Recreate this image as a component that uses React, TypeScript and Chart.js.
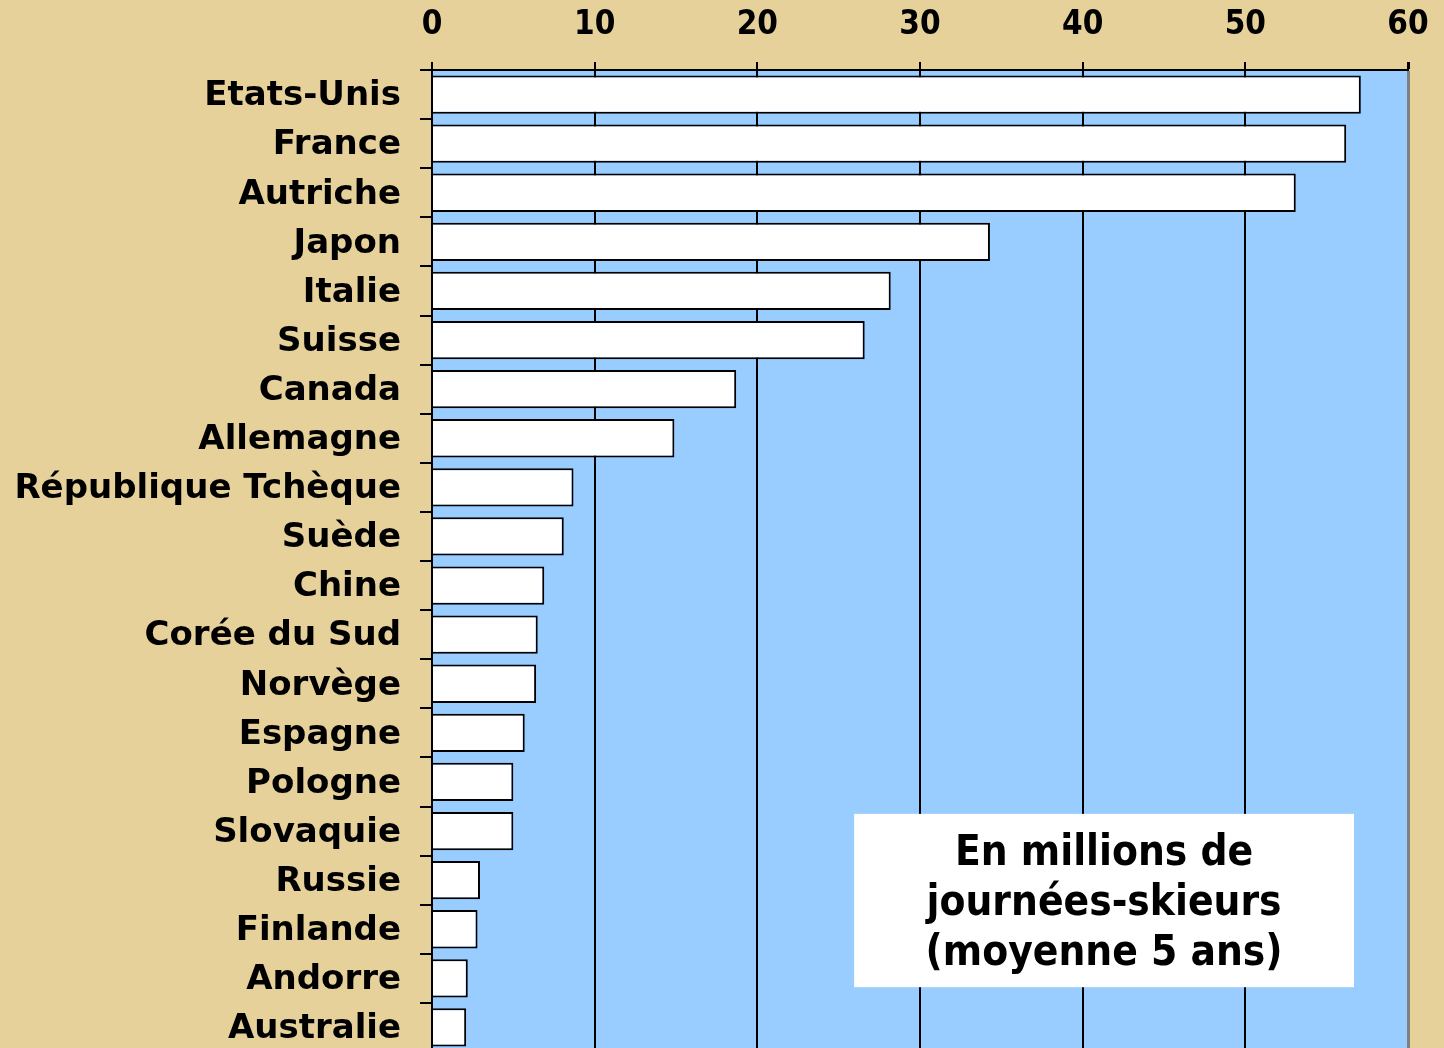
import React, { useEffect, useRef } from "react";
import { Chart, registerables } from "chart.js";

Chart.register(...registerables);

const countries = [
  "Etats-Unis",
  "France",
  "Autriche",
  "Japon",
  "Italie",
  "Suisse",
  "Canada",
  "Allemagne",
  "République Tchèque",
  "Suède",
  "Chine",
  "Corée du Sud",
  "Norvège",
  "Espagne",
  "Pologne",
  "Slovaquie",
  "Russie",
  "Finlande",
  "Andorre",
  "Australie",
];

const values = [57.1, 56.2, 53.1, 34.3, 28.2, 26.6, 18.7, 14.9, 8.7, 8.1, 6.9, 6.5, 6.4, 5.7, 5.0, 5.0, 2.95, 2.8, 2.2, 2.1];

const xMin = 0;
const xMax = 60;
const xStep = 10;

const noteLines = ["En millions de", "journées-skieurs", "(moyenne 5 ans)"];
// note box placement in data units (x value, category index)
const noteX = [25.95, 56.68];
const noteY = [14.65, 18.18];

const TAN = "#E6D19B";
const BLUE = "#99CCFF";
const FONT = '"DejaVu Sans", Verdana, sans-serif';
const FONT_C = '"DejaVu Sans Condensed", "DejaVu Sans", sans-serif';

const bgPlugin = {
  id: "bgPlugin",
  beforeDraw(chart: any) {
    const { ctx, chartArea } = chart;
    ctx.save();
    ctx.fillStyle = TAN;
    ctx.fillRect(0, 0, chart.width, chart.height);
    ctx.fillStyle = BLUE;
    ctx.fillRect(chartArea.left, chartArea.top, chartArea.right - chartArea.left, chartArea.bottom - chartArea.top);
    ctx.restore();
  },
  afterDraw(chart: any) {
    const { ctx } = chart;
    const xs = chart.scales.x;
    const ys = chart.scales.y;
    const l = xs.getPixelForValue(noteX[0]);
    const r = xs.getPixelForValue(noteX[1]);
    const t = ys.getPixelForValue(noteY[0]);
    const b = ys.getPixelForValue(noteY[1]);
    ctx.save();
    ctx.fillStyle = "#FFFFFF";
    ctx.fillRect(l, t, r - l, b - t);
    ctx.fillStyle = "#000000";
    ctx.font = "bold 42px " + FONT_C;
    ctx.textAlign = "center";
    ctx.textBaseline = "alphabetic";
    const cx = (l + r) / 2;
    const lh = 50;
    const base = t + 51;
    noteLines.forEach((line, i) => ctx.fillText(line, cx, base + i * lh));
    ctx.restore();
  },
};

export default function App() {
  const ref = useRef<HTMLCanvasElement | null>(null);
  useEffect(() => {
    if (!ref.current) return;
    const chart = new Chart(ref.current, {
      type: "bar",
      data: {
        labels: countries,
        datasets: [
          {
            data: values,
            backgroundColor: "#FFFFFF",
            borderColor: "#000000",
            borderWidth: 2,
            barPercentage: 0.78,
            categoryPercentage: 1,
          },
        ],
      },
      options: {
        indexAxis: "y",
        animation: false,
        responsive: false,
        devicePixelRatio: 1,
        layout: { padding: { left: 0, right: 36, top: 0, bottom: 0 } },
        plugins: { legend: { display: false }, tooltip: { enabled: false } },
        scales: {
          x: {
            type: "linear",
            position: "top",
            min: xMin,
            max: xMax,
            ticks: {
              stepSize: xStep,
              color: "#000",
              font: { family: FONT_C, size: 33, weight: "bold" },
              padding: 17,
            },
            grid: {
              color: (c: any) => (c.tick && c.tick.value === xMax ? "#7F7F7F" : "#000000"),
              lineWidth: (c: any) => (c.tick && c.tick.value === xMax ? 3 : 2),
              tickColor: "#000000",
              tickLength: 8,
            },
            border: { display: true, color: "#000", width: 2 },
            afterFit: (s: any) => {
              s.height = 70;
              s.paddingLeft = 0;
              s.paddingRight = 0;
            },
          },
          y: {
            type: "category",
            ticks: {
              color: "#000",
              font: { family: FONT, size: 34, weight: "bold" },
              padding: 19,
              labelOffset: 2,
              autoSkip: false,
            },
            grid: {
              drawOnChartArea: false,
              color: "#000",
              lineWidth: 2,
              tickLength: 12,
              offset: true,
            },
            border: { display: true, color: "#000", width: 2 },
            afterFit: (s: any) => {
              s.width = 432;
              s.paddingTop = 0;
              s.paddingBottom = 0;
            },
          },
        },
      },
      plugins: [bgPlugin],
    });
    return () => chart.destroy();
  }, []);
  return (
    <div style={{ position: "fixed", top: 0, left: 0, width: 1444, height: 1048, overflow: "hidden", background: TAN }}>
      <canvas ref={ref} width={1444} height={1052} style={{ display: "block" }} />
    </div>
  );
}
